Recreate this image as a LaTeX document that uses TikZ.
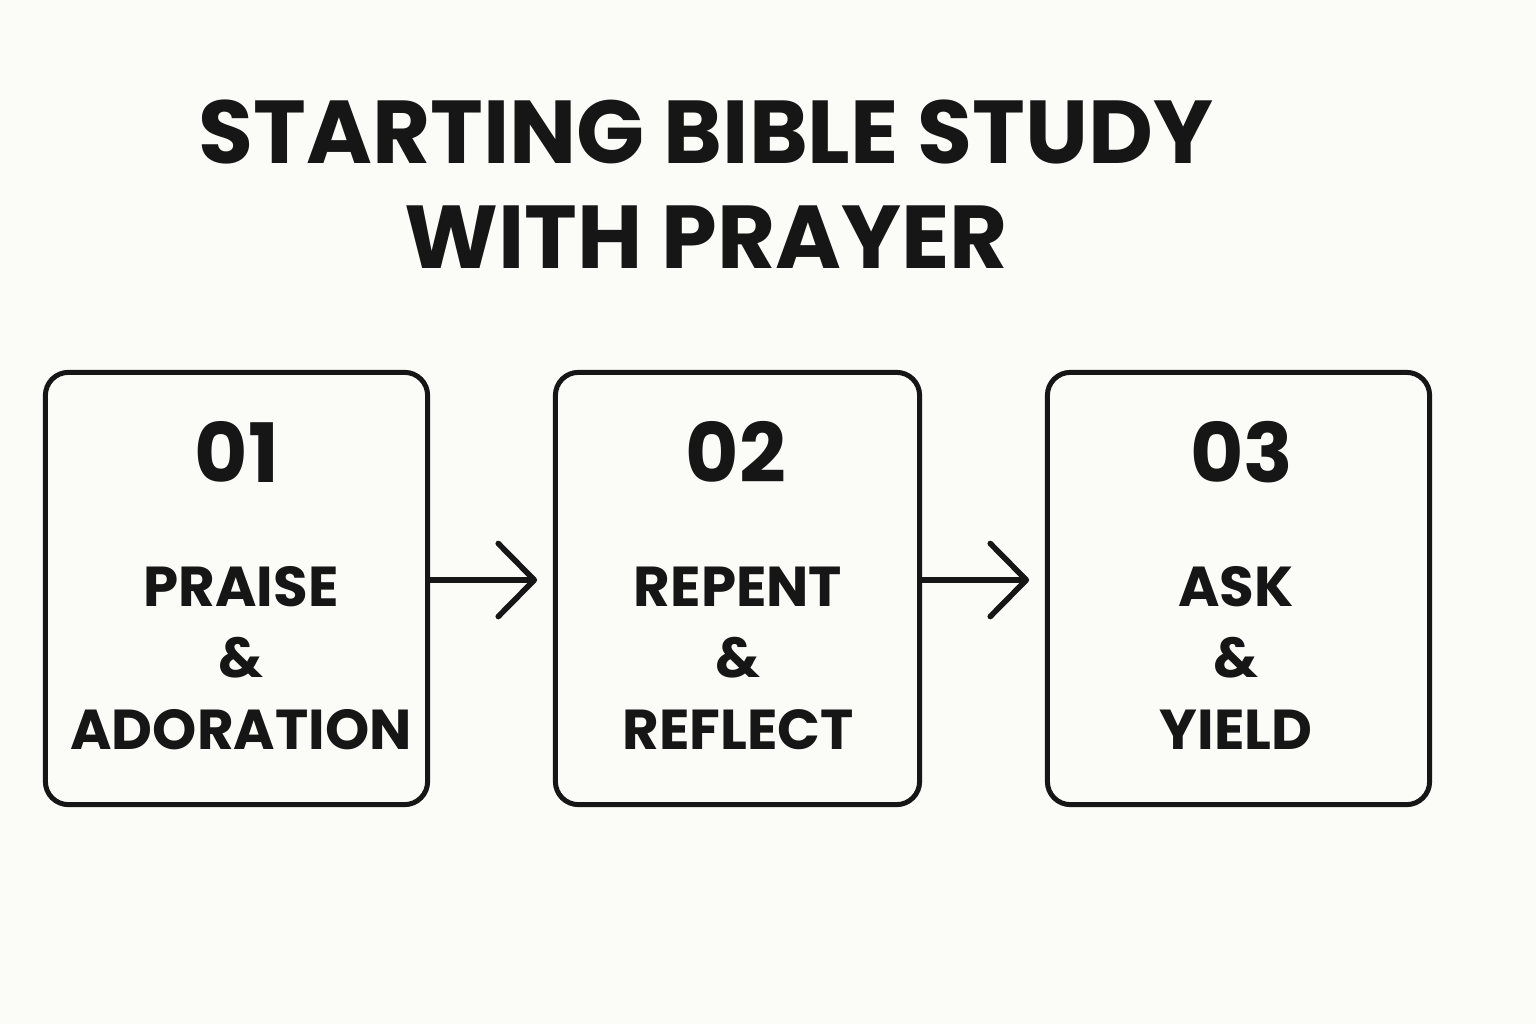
\documentclass[tikz,border=0pt]{standalone}
\usepackage{fontspec}
\setmainfont{Poppins}
\usetikzlibrary{arrows.meta}
\definecolor{paper}{HTML}{FBFBF8}
\definecolor{ink}{HTML}{161616}
\begin{document}
\begin{tikzpicture}[x=0.01cm, y=-0.01cm,
  stepbox/.style={draw=ink, line width=1.42pt, rounded corners=2.3mm, minimum width=3.82cm, minimum height=4.32cm},
  stepnum/.style={anchor=base, text=ink, font=\fontsize{23.3}{28}\selectfont\bfseries},
  steptext/.style={anchor=base, text=ink, align=center, font=\fontsize{16}{20.2}\selectfont\bfseries},
  flow/.style={draw=ink, line width=1.6pt, line cap=round, -{Straight Barb[length=3.6mm, width=7.3mm, line width=1.6pt, round]}}]
\fill[paper] (0,0) rectangle (1536,1024);
\useasboundingbox (0,0) rectangle (1536,1024);
\node[anchor=base, text=ink, align=center, font=\fontsize{25.4}{29.8}\selectfont\bfseries] (title) at (706,268) {STARTING BIBLE STUDY\\WITH PRAYER};
\node[stepbox] (box1) at (236.5,588.5){};
\node[stepbox, minimum width=3.64cm] (box2) at (737.5,588.5){};
\node[stepbox] (box3) at (1238.5,588.5){};
\node[stepnum] (num1) at (237,482){01};
\node[stepnum] (num2) at (736,482){02};
\node[stepnum] (num3) at (1242,482){03};
\node[steptext] (txt1) at (241,749){PRAISE\\\&\\ADORATION};
\node[steptext] (txt2) at (738,749){REPENT\\\&\\REFLECT};
\node[steptext] (txt3) at (1236,749){ASK\\\&\\YIELD};
\draw[flow] ([yshift=0.085cm]box1.east) -- ++(107,0);
\draw[flow] ([yshift=0.085cm]box2.east) -- ++(107,0);
\end{tikzpicture}
\end{document}
